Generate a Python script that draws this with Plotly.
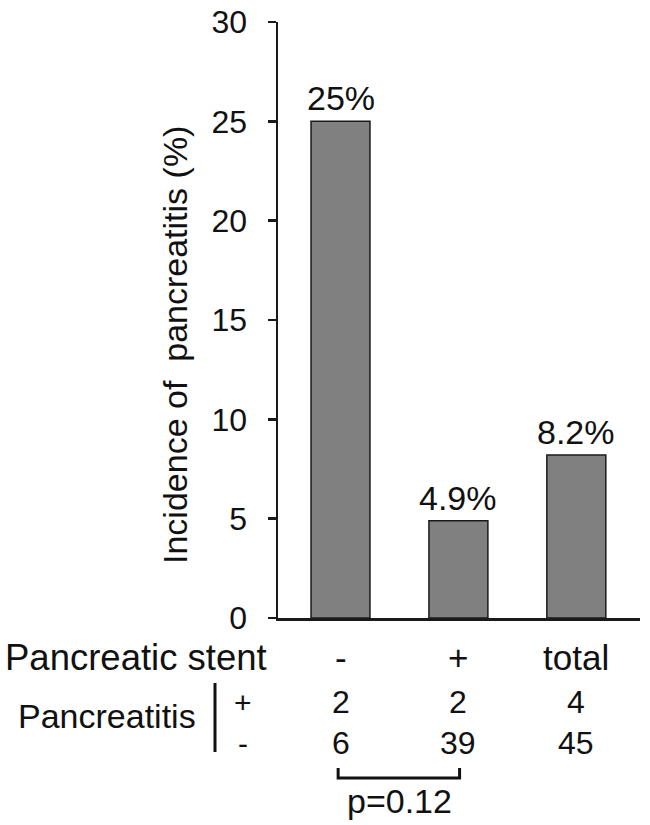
import plotly.graph_objects as go

# ---- data ----
categories = ["-", "+", "total"]
incidence = [25, 4.9, 8.2]
bar_labels = ["25%", "4.9%", "8.2%"]
pancreatitis_pos = ["2", "2", "4"]
pancreatitis_neg = ["6", "39", "45"]
y_ticks = [0, 5, 10, 15, 20, 25, 30]
p_value_text = "p=0.12"

FONT = "Liberation Sans, Arial, sans-serif"
INK = "#111111"

xs = list(range(len(categories)))
XMIN, XMAX = -0.53, 2.54
W, H = 650, 825
T, L, R = 22, 278, 10
B = H - 618
plot_w = W - L - R
plot_h = H - T - B


def py(ypix):
    """window pixel y -> paper y"""
    return (618 - ypix) / plot_h


def pxx(xpix):
    """window pixel x -> paper x"""
    return (xpix - 278) / plot_w


def data_to_paper_x(x):
    return (x - XMIN) / (XMAX - XMIN)


fig = go.Figure()
fig.add_trace(go.Bar(
    x=xs, y=incidence, width=0.5,
    marker=dict(color="#808080", line=dict(color="#1a1a1a", width=1.5)),
    hoverinfo="skip",
))

ann = []
for i, (v, t) in enumerate(zip(incidence, bar_labels)):
    ann.append(dict(x=i, y=v, xref="x", yref="y", text=t, showarrow=False,
                    xanchor="center", yanchor="bottom", yshift=2,
                    font=dict(size=34, color=INK, family=FONT)))

row1 = py(657)
row2 = py(702)
row3 = py(743)

ann.append(dict(x=pxx(3), y=row1, xref="paper", yref="paper", text="Pancreatic stent",
                showarrow=False, xanchor="left", yanchor="middle",
                font=dict(size=36.5, color=INK, family=FONT)))
for i, c in enumerate(categories):
    ann.append(dict(x=i, y=row1, xref="x", yref="paper", text=c, showarrow=False,
                    xanchor="center", yanchor="middle",
                    font=dict(size=35, color=INK, family=FONT)))
ann.append(dict(x=pxx(107), y=py(716), xref="paper", yref="paper", text="Pancreatitis",
                showarrow=False, xanchor="center", yanchor="middle",
                font=dict(size=34, color=INK, family=FONT)))
ann.append(dict(x=pxx(243), y=row2, xref="paper", yref="paper", text="+",
                showarrow=False, xanchor="center", yanchor="middle",
                font=dict(size=30, color=INK, family=FONT)))
ann.append(dict(x=pxx(243), y=row3, xref="paper", yref="paper", text="-",
                showarrow=False, xanchor="center", yanchor="middle",
                font=dict(size=30, color=INK, family=FONT)))
for i, (a, b) in enumerate(zip(pancreatitis_pos, pancreatitis_neg)):
    ann.append(dict(x=i, y=row2, xref="x", yref="paper", text=a, showarrow=False,
                    xanchor="center", yanchor="middle",
                    font=dict(size=32, color=INK, family=FONT)))
    ann.append(dict(x=i, y=row3, xref="x", yref="paper", text=b, showarrow=False,
                    xanchor="center", yanchor="middle",
                    font=dict(size=32, color=INK, family=FONT)))
ann.append(dict(x=0.5, y=py(801), xref="x", yref="paper", text=p_value_text,
                showarrow=False, xanchor="center", yanchor="middle",
                font=dict(size=34, color=INK, family=FONT)))
ann.append(dict(x=pxx(175), y=py(345), xref="paper", yref="paper",
                text="Incidence of\u00a0 pancreatitis (%)", textangle=-90,
                showarrow=False, xanchor="center", yanchor="middle",
                font=dict(size=34, color=INK, family=FONT)))

shapes = [
    dict(type="line", xref="paper", yref="paper",
         x0=pxx(215), x1=pxx(215), y0=py(683), y1=py(752),
         line=dict(color=INK, width=3)),
    dict(type="path", xref="paper", yref="paper",
         path="M {a},{t} L {a},{b} L {c},{b} L {c},{t}".format(
             a=data_to_paper_x(-0.02), c=data_to_paper_x(1.01),
             t=py(768), b=py(778)),
         line=dict(color=INK, width=3)),
]

fig.update_layout(
    width=W, height=H,
    margin=dict(l=L, r=R, t=T, b=B, pad=0, autoexpand=False),
    paper_bgcolor="white", plot_bgcolor="white",
    showlegend=False,
    annotations=ann,
    shapes=shapes,
    font=dict(family=FONT, color=INK),
    xaxis=dict(range=[XMIN, XMAX], showticklabels=False, ticks="",
               showgrid=False, zeroline=False, showline=True, automargin=False,
               linecolor="#1a1a1a", linewidth=2.5, fixedrange=True),
    yaxis=dict(range=[0, 30], tickvals=y_ticks, ticktext=[str(v) for v in y_ticks],
               ticks="outside", ticklen=8, tickwidth=2.5, tickcolor="#1a1a1a",
               showgrid=False, zeroline=False, showline=True, automargin=False,
               linecolor="#1a1a1a", linewidth=2.5,
               tickfont=dict(size=32, color=INK, family=FONT),
               ticklabelstandoff=14, ticklabeloverflow="allow", fixedrange=True),
)

fig.write_html("out.html",
               config={"displayModeBar": False, "staticPlot": True},
               post_script="document.body.style.margin='0';document.body.style.overflow='hidden';")
